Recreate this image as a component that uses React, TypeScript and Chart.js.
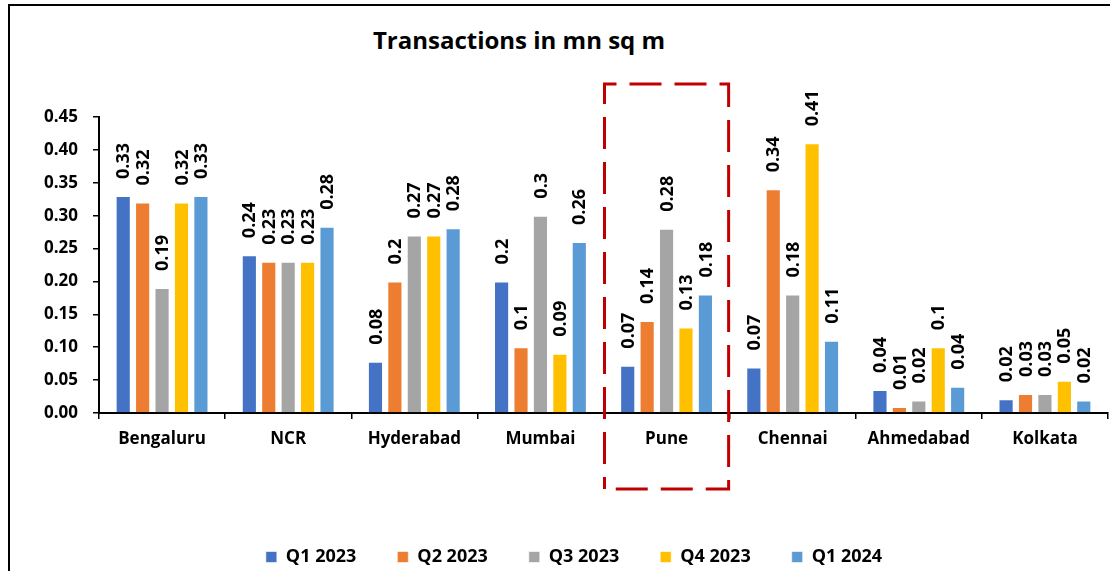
import React, { useEffect, useRef } from "react";
import { Chart, registerables } from "chart.js";

Chart.register(...registerables);

const categories = ["Bengaluru", "NCR", "Hyderabad", "Mumbai", "Pune", "Chennai", "Ahmedabad", "Kolkata"];
const seriesNames = ["Q1 2023", "Q2 2023", "Q3 2023", "Q4 2023", "Q1 2024"];
const seriesColors = ["#4472C4", "#ED7D31", "#A5A5A5", "#FFC000", "#5B9BD5"];

const q1_2023 = [0.33, 0.24, 0.078, 0.2, 0.072, 0.069, 0.035, 0.021];
const q2_2023 = [0.32, 0.23, 0.2, 0.1, 0.14, 0.34, 0.009, 0.029];
const q3_2023 = [0.19, 0.23, 0.27, 0.3, 0.28, 0.18, 0.019, 0.029];
const q4_2023 = [0.32, 0.23, 0.27, 0.09, 0.13, 0.41, 0.1, 0.049];
const q1_2024 = [0.33, 0.283, 0.281, 0.26, 0.18, 0.11, 0.04, 0.019];

const q1_2023Labels = ["0.33", "0.24", "0.08", "0.2", "0.07", "0.07", "0.04", "0.02"];
const q2_2023Labels = ["0.32", "0.23", "0.2", "0.1", "0.14", "0.34", "0.01", "0.03"];
const q3_2023Labels = ["0.19", "0.23", "0.27", "0.3", "0.28", "0.18", "0.02", "0.03"];
const q4_2023Labels = ["0.32", "0.23", "0.27", "0.09", "0.13", "0.41", "0.1", "0.05"];
const q1_2024Labels = ["0.33", "0.28", "0.28", "0.26", "0.18", "0.11", "0.04", "0.02"];

const yMin = 0;
const yMax = 0.45;
const yStep = 0.05;

const chartTitle = "Transactions in mn sq m";
const highlightedCategory = "Pune";

const FONT = "'Open Sans', Lato, sans-serif";

const seriesValues = [q1_2023, q2_2023, q3_2023, q4_2023, q1_2024];
const seriesLabels = [q1_2023Labels, q2_2023Labels, q3_2023Labels, q4_2023Labels, q1_2024Labels];

const valueLabelPlugin = {
  id: "valueLabels",
  afterDatasetsDraw(chart: any) {
    const ctx = chart.ctx;
    ctx.save();
    ctx.font = `bold 18px ${FONT}`;
    ctx.fillStyle = "#000";
    ctx.textAlign = "left";
    ctx.textBaseline = "middle";
    chart.data.datasets.forEach((ds: any, di: number) => {
      const meta = chart.getDatasetMeta(di);
      meta.data.forEach((bar: any, i: number) => {
        const txt = seriesLabels[di][i];
        ctx.save();
        ctx.translate(bar.x + 1, bar.y - 17);
        ctx.rotate(-Math.PI / 2);
        ctx.fillText(txt, 0, 0);
        ctx.restore();
      });
    });
    ctx.restore();
  },
};

const highlightPlugin = {
  id: "highlightBox",
  afterDraw(chart: any) {
    const x = chart.scales.x;
    const idx = categories.indexOf(highlightedCategory);
    if (idx < 0) return;
    const half = x.width / categories.length / 2;
    const cx = x.getPixelForValue(idx);
    const left = cx - half + 1;
    const right = cx + half - 1;
    const top = chart.chartArea.top - 33;
    const bottom = chart.chartArea.bottom + 76;
    const ctx = chart.ctx;
    ctx.save();
    ctx.strokeStyle = "#C00000";
    ctx.lineWidth = 3;
    ctx.setLineDash([32, 13]);
    ctx.lineDashOffset = 20;
    ctx.beginPath();
    ctx.moveTo(left, bottom);
    ctx.lineTo(left, top);
    ctx.lineTo(right, top);
    ctx.lineTo(right, bottom);
    ctx.lineTo(left, bottom);
    ctx.stroke();
    ctx.restore();
  },
};

export default function App() {
  const canvasRef = useRef<HTMLCanvasElement | null>(null);

  useEffect(() => {
    if (!canvasRef.current) return;
    const chart = new Chart(canvasRef.current, {
      type: "bar",
      data: {
        labels: categories,
        datasets: seriesNames.map((name, i) => ({
          label: name,
          data: seriesValues[i],
          backgroundColor: seriesColors[i],
          borderColor: "rgba(255,255,255,0.6)",
          borderWidth: 1,
          categoryPercentage: 0.77,
          barPercentage: 0.78,
        })),
      },
      options: {
        animation: false,
        responsive: false,
        maintainAspectRatio: false,
        layout: { padding: { left: 30, right: 2, top: 111, bottom: 0 } },
        plugins: {
          title: { display: false },
          tooltip: { enabled: false },
          legend: {
            display: true,
            position: "bottom",
            labels: {
              boxWidth: 11,
              boxHeight: 11,
              padding: 41,
              color: "#000",
              font: { family: FONT, size: 18, weight: "bold" },
            },
          },
        },
        scales: {
          x: {
            afterFit: (s: any) => {
              s.height = 94;
            },
            grid: {
              display: true,
              drawOnChartArea: false,
              drawTicks: true,
              tickLength: 6,
              color: "#000",
              lineWidth: 1.5,
              offset: true,
            },
            border: { display: true, color: "#000", width: 2 },
            ticks: {
              color: "#000",
              padding: 10,
              font: { family: FONT, size: 17, weight: "bold" },
              maxRotation: 0,
              autoSkip: false,
            },
          },
          y: {
            min: yMin,
            max: yMax,
            afterFit: (s: any) => {
              s.width = 59;
            },
            grid: {
              display: true,
              drawOnChartArea: false,
              drawTicks: true,
              tickLength: 6,
              color: "#000",
              lineWidth: 1.5,
            },
            border: { display: true, color: "#000", width: 2 },
            ticks: {
              stepSize: yStep,
              color: "#000",
              padding: 15,
              font: { family: FONT, size: 17, weight: "bold" },
              callback: (v: any) => Number(v).toFixed(2),
            },
          },
        },
      },
      plugins: [valueLabelPlugin, highlightPlugin],
    } as any);
    return () => chart.destroy();
  }, []);

  return (
    <div style={{ position: "absolute", left: 0, top: 0, width: 1110, height: 571, overflow: "hidden", background: "#fff" }}>
      <div
        style={{
          position: "absolute",
          left: 8,
          top: 4,
          width: 1110,
          height: 600,
          borderLeft: "2px solid #000",
          borderTop: "2px solid #000",
          boxSizing: "border-box",
        }}
      />
      <div
        style={{
          position: "absolute",
          left: 269,
          width: 500,
          top: 26,
          textAlign: "center",
          fontFamily: FONT,
          fontWeight: "bold",
          fontSize: 24,
          lineHeight: "28px",
          color: "#000",
        }}
      >
        {chartTitle}
      </div>
      <canvas
        ref={canvasRef}
        width={1100}
        height={570}
        style={{ position: "absolute", left: 10, top: 6, width: 1100, height: 570 }}
      />
    </div>
  );
}
